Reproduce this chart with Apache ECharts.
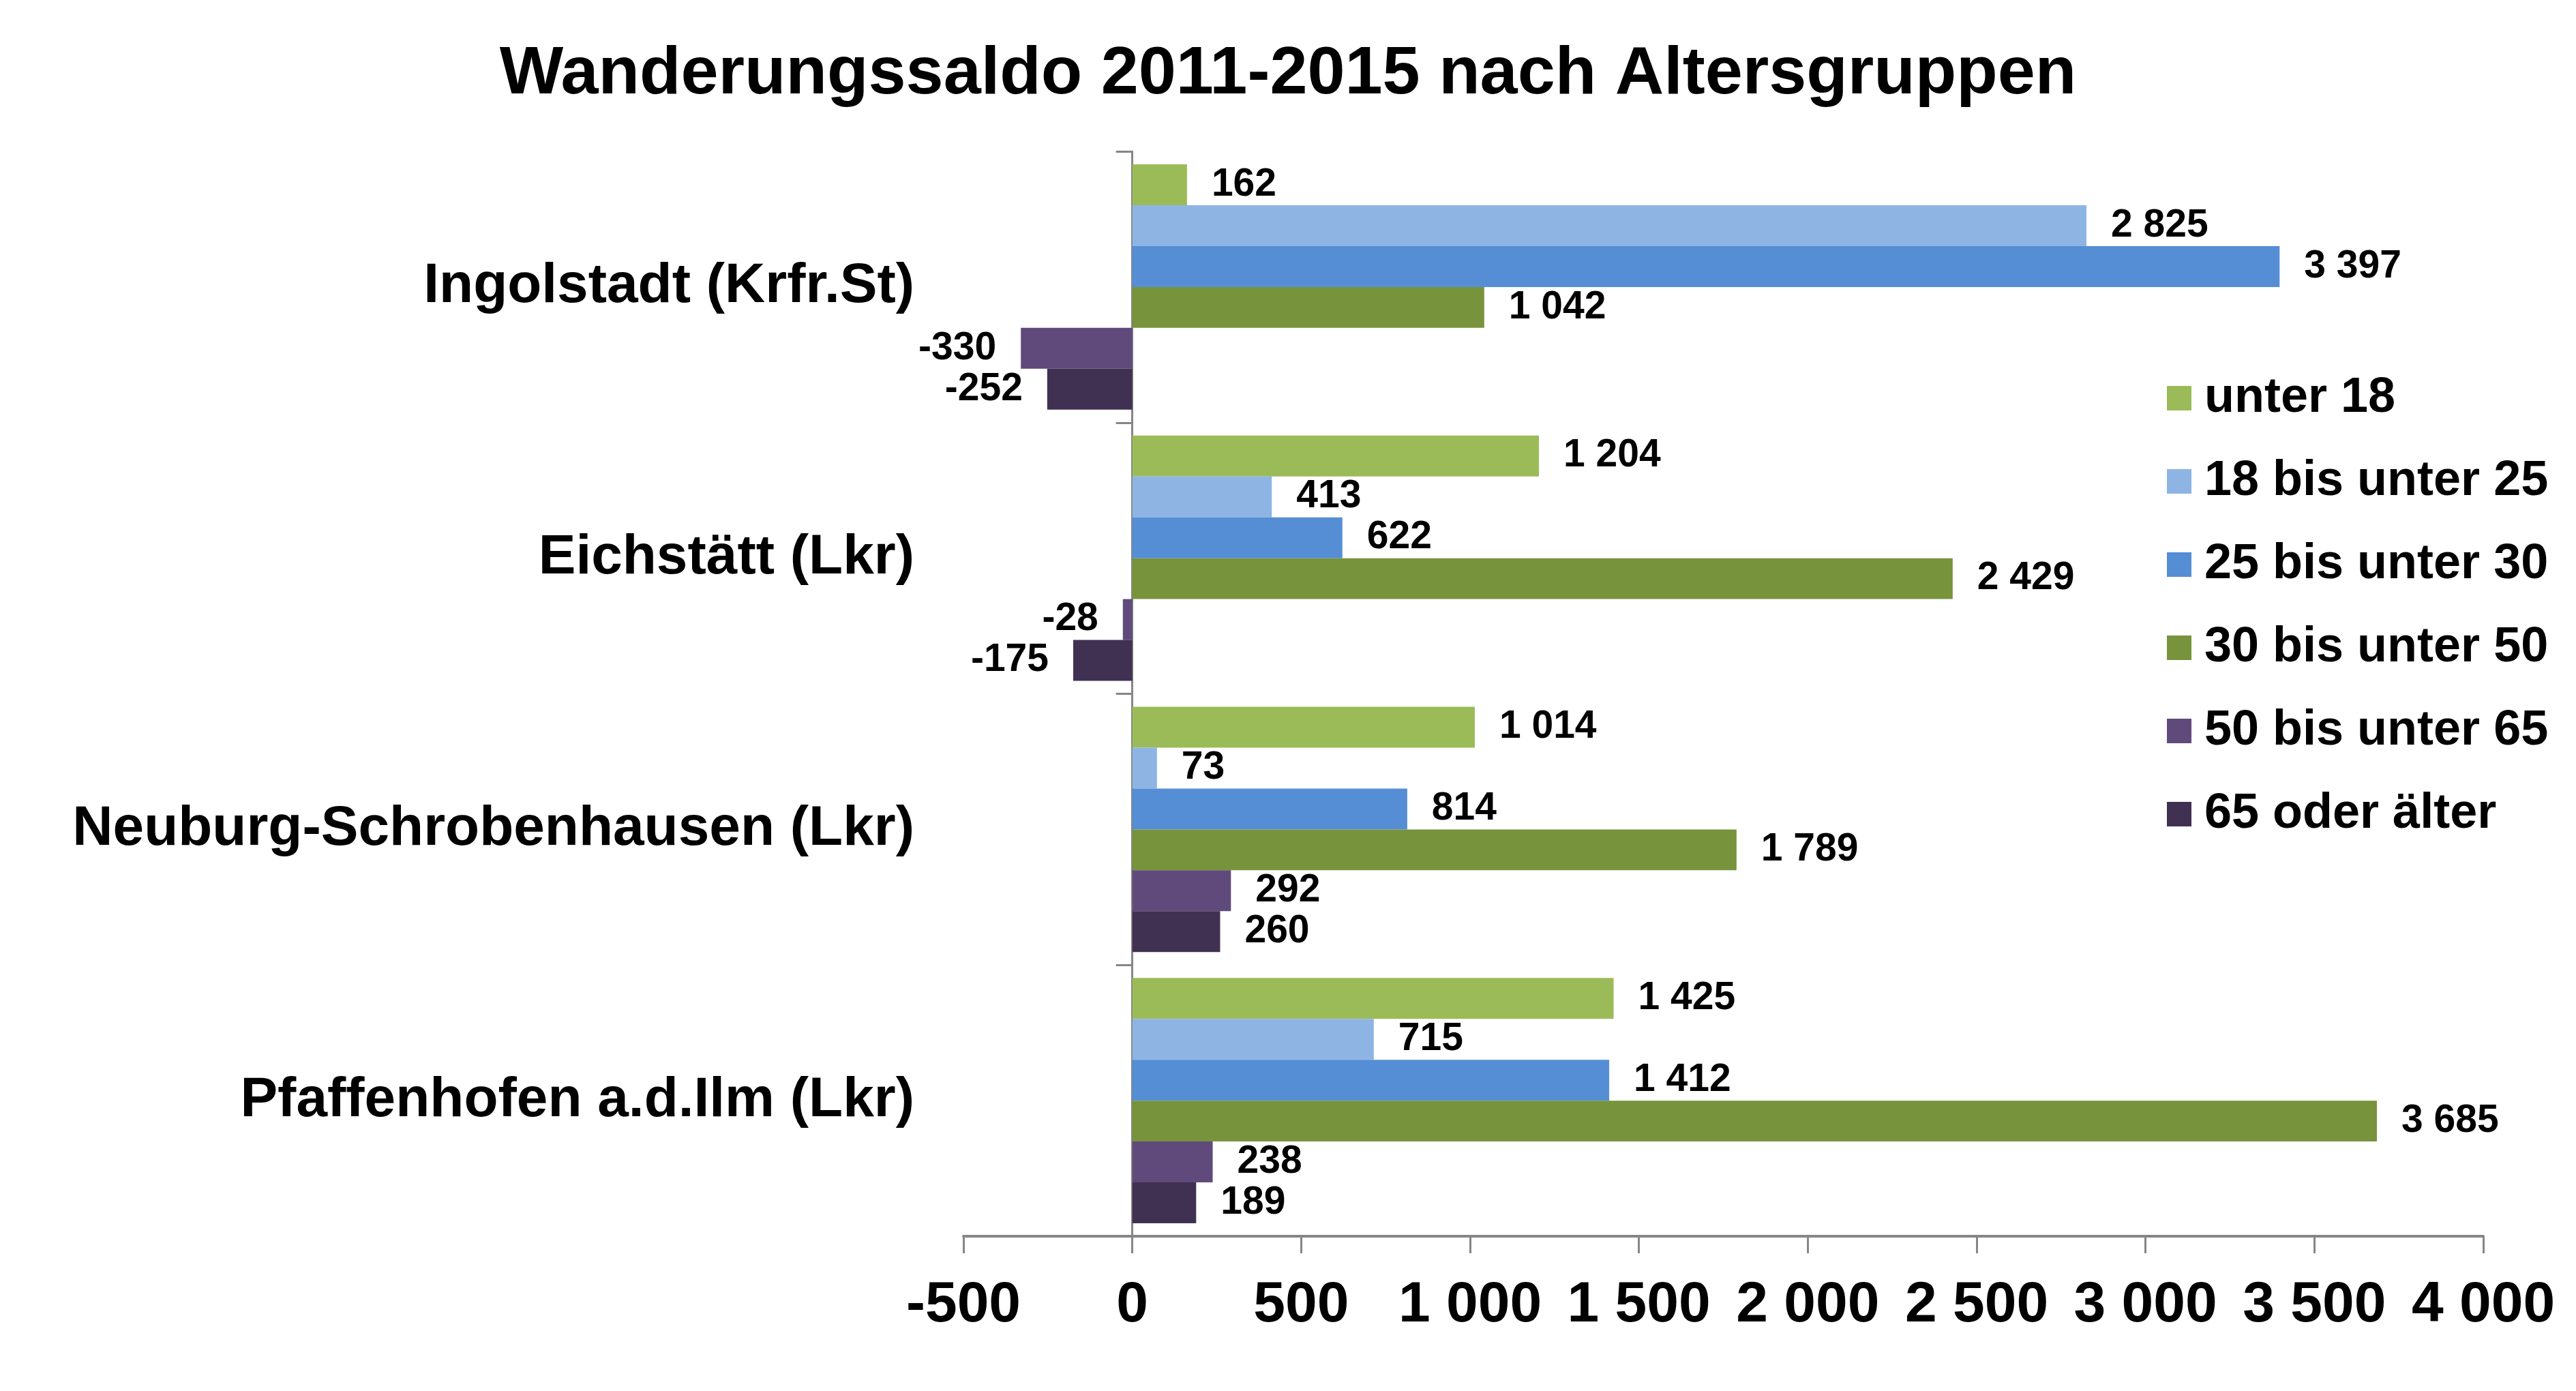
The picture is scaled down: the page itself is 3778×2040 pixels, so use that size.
<!DOCTYPE html>
<html>
<head>
<meta charset="utf-8">
<title>Wanderungssaldo 2011-2015 nach Altersgruppen</title>
<script src="https://cdn.jsdelivr.net/npm/echarts@6/dist/echarts.min.js"></script>
<style>
  html, body { margin: 0; padding: 0; background: #fff; }
  #main { width: 3778px; height: 2040px; }
</style>
</head>
<body>
<div id="main"></div>
<script>
var regions = ['Ingolstadt (Krfr.St)', 'Eichstätt (Lkr)', 'Neuburg-Schrobenhausen (Lkr)', 'Pfaffenhofen a.d.Ilm (Lkr)'];
var groups = ['unter 18', '18 bis unter 25', '25 bis unter 30', '30 bis unter 50', '50 bis unter 65', '65 oder älter'];
var colors = ['#9BBB59', '#8EB4E3', '#558ED5', '#77933C', '#604A7B', '#403152'];

// one array per age group, values in region order
var unter18 = [162, 1204, 1014, 1425];
var von18bis25 = [2825, 413, 73, 715];
var von25bis30 = [3397, 622, 814, 1412];
var von30bis50 = [1042, 2429, 1789, 3685];
var von50bis65 = [-330, -28, 292, 238];
var ab65 = [-252, -175, 260, 189];
var values = [unter18, von18bis25, von25bis30, von30bis50, von50bis65, ab65];

var xMin = -500, xMax = 4000, xStep = 500;

var font = '"Liberation Sans", Arial, sans-serif';

function fmt(v) {
  return String(v).replace(/\B(?=(\d{3})+(?!\d))/g, ' ');
}

var series = groups.map(function (name, i) {
  return {
    name: name,
    type: 'bar',
    barGap: '0%',
    barCategoryGap: '9.5%',
    itemStyle: { color: colors[i] },
    label: {
      show: true,
      position: 'right',
      distance: 36,
      color: '#000',
      fontFamily: font,
      fontWeight: 'bold',
      fontSize: 57,
      formatter: function (p) { return fmt(p.value); }
    },
    data: values[i].map(function (v) {
      return v < 0 ? { value: v, label: { position: 'left' } } : v;
    })
  };
});

var chart = echarts.init(document.getElementById('main'));
chart.setOption({
  animation: false,
  backgroundColor: '#fff',
  title: {
    text: 'Wanderungssaldo 2011-2015 nach Altersgruppen',
    left: 'center',
    top: 55,
    textStyle: {
      fontFamily: font,
      fontWeight: 'bold',
      fontSize: 99,
      color: '#000'
    }
  },
  legend: {
    orient: 'vertical',
    left: 3173,
    top: 543,
    itemWidth: 36,
    itemHeight: 36,
    itemGap: 50,
    icon: 'rect',
    selectedMode: false,
    textStyle: {
      fontFamily: font,
      fontWeight: 'bold',
      fontSize: 72,
      color: '#000',
      padding: [0, 0, 0, 14]
    },
    data: groups
  },
  grid: {
    left: 1413,
    right: 136,
    top: 222,
    bottom: 227,
    outerBoundsMode: 'none'
  },
  xAxis: {
    type: 'value',
    min: xMin,
    max: xMax,
    interval: xStep,
    splitLine: { show: false },
    axisLine: { show: true, lineStyle: { color: '#868686', width: 4 } },
    axisTick: { show: true, length: 25, lineStyle: { color: '#868686', width: 3 } },
    axisLabel: {
      margin: 60,
      color: '#000',
      fontFamily: font,
      fontWeight: 'bold',
      fontSize: 84,
      formatter: function (v) { return fmt(v); }
    }
  },
  yAxis: {
    type: 'category',
    inverse: true,
    data: regions,
    axisLine: { show: true, onZero: true, lineStyle: { color: '#868686', width: 3 } },
    axisTick: { show: true, length: 24, lineStyle: { color: '#868686', width: 3 } },
    axisLabel: {
      margin: 72,
      color: '#000',
      fontFamily: font,
      fontWeight: 'bold',
      fontSize: 82
    }
  },
  series: series
});
</script>
</body>
</html>
